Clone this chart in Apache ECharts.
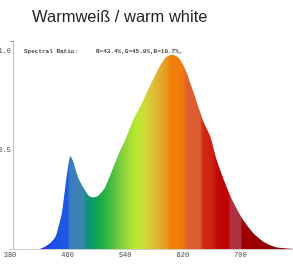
<!DOCTYPE html>
<html>
<head>
<meta charset="utf-8">
<script src="https://cdn.jsdelivr.net/npm/echarts@6/dist/echarts.min.js"></script>
<style>
  html, body { margin: 0; padding: 0; background: #fff; }
  #main { width: 293px; height: 270px; }
</style>
</head>
<body>
<div id="main"></div>
<script>
// wavelength (nm) and relative intensity
var wavelengths = [380, 420, 428, 436, 443, 448, 452, 456, 460, 464, 468, 472, 476, 482, 489, 495, 503, 512, 521, 531,
                   540, 551, 561, 570, 584, 596, 605, 614, 623, 635, 649, 658, 667, 679, 691, 704, 718, 735, 751, 765, 780];
var intensity = [0, 0, 0.01, 0.03, 0.06, 0.12, 0.18, 0.29, 0.40, 0.47, 0.44, 0.39, 0.35, 0.31, 0.27, 0.26, 0.27, 0.31, 0.39, 0.48,
                 0.55, 0.65, 0.72, 0.79, 0.895, 0.965, 0.98, 0.965, 0.91, 0.79, 0.64, 0.57, 0.45, 0.33, 0.23, 0.146, 0.08, 0.03, 0.007, 0.003, 0];
var xTickLabels = [380, 460, 540, 620, 700];
var yTickLabels = [0.5, 1.0];

// spectrum colours across wavelength
var bandNm = [380, 428, 440, 460, 463, 481, 487, 495, 505, 515, 530, 545, 557, 568, 578, 590, 598, 602, 620, 625, 644, 648, 662, 667, 683, 686, 700, 703, 725, 780];
var bandColor = ['#3020c0', '#2a30e0', '#1a50e8', '#1e5ae0', '#3a7cc0', '#3a86b0', '#10907a', '#0a9a68', '#18a848', '#30b840',
                 '#70c840', '#a0dc38', '#bce830', '#d0d838', '#dcc038', '#e4a828', '#ea9820', '#f08208', '#f07a10', '#e06030',
                 '#dc5a30', '#d02a10', '#cc2010', '#c00808', '#c00000', '#b03040', '#b03040', '#a00000', '#980000', '#800000'];

function spectrumGradient() {
    var stops = [];
    for (var i = 0; i < bandNm.length; i++) {
        stops.push({offset: (bandNm[i] - 380) / 400, color: bandColor[i]});
    }
    return new echarts.graphic.LinearGradient(0, 0, 1, 0, stops);
}

var myChart = echarts.init(document.getElementById('main'));
var seriesData = wavelengths.map(function (w, i) { return [w, intensity[i]]; });
var fill = spectrumGradient();

var option = {
    animation: false,
    grid: {left: 10, right: -5, top: 41, bottom: 21, outerBoundsMode: 'none', containLabel: false},
    graphic: [
        {
            type: 'text', left: 32, top: 9,
            style: {text: 'Warmweiß / warm white', fill: '#222', font: '16.5px "Liberation Sans", Arial, sans-serif'}
        },
        {
            type: 'text', left: 24, top: 48,
            style: {text: 'Spectral Ratio:     R=43.4%,G=45.9%,B=10.7%,', fill: '#444',
                    font: 'bold 6px "Liberation Mono", "DejaVu Sans Mono", monospace'}
        }
    ],
    xAxis: {
        type: 'value',
        min: 380,
        max: 780,
        axisLine: {show: true, lineStyle: {color: '#ccc', width: 1}},
        axisTick: {show: false},
        splitLine: {show: false},
        axisLabel: {
            customValues: xTickLabels,
            color: '#444',
            fontSize: 7,
            fontFamily: '"Liberation Mono", monospace',
            margin: 3
        }
    },
    yAxis: {
        type: 'value',
        min: 0,
        max: 1.05,
        offset: -3,
        axisLine: {show: true, lineStyle: {color: '#bbb', width: 1}},
        axisTick: {show: true, customValues: [1.05], length: 3, lineStyle: {color: '#999'}},
        splitLine: {show: false},
        axisLabel: {
            customValues: yTickLabels,
            formatter: function (v) { return v.toFixed(1); },
            color: '#444',
            fontSize: 7,
            fontFamily: '"Liberation Mono", monospace',
            margin: 2
        }
    },
    series: [{
        type: 'line',
        data: seriesData,
        smooth: 0.25,
        symbol: 'none',
        lineStyle: {width: 0},
        areaStyle: {color: fill, opacity: 1}
    }]
};
myChart.setOption(option);
</script>
</body>
</html>
